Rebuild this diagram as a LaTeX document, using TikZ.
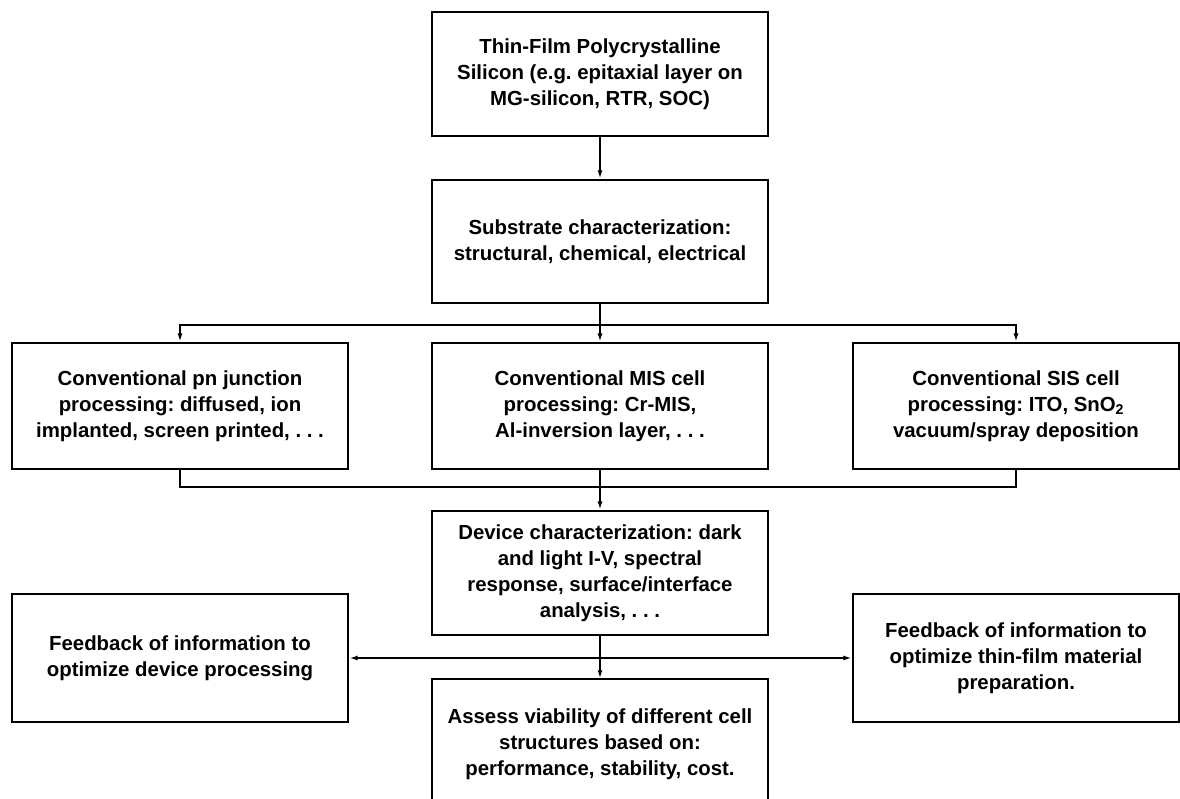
\documentclass[tikz,border=0pt]{standalone}
\usepackage{fontspec}
\setmainfont{Liberation Sans}
\usetikzlibrary{arrows.meta, positioning}
\frenchspacing

\begin{document}
\begin{tikzpicture}[x=0.025cm, y=-0.025cm,
  every node/.style={font=\bfseries\fontsize{14.5}{18.5}\selectfont},
  box/.style={draw, line width=1.5pt, align=center, inner sep=0pt,
    minimum width=8.4cm, minimum height=3.15cm},
  narrowbox/.style={box, minimum width=8.15cm},
  link/.style={line width=1.3pt},
  flow/.style={link, -{Latex[length=6pt,width=3.5pt]}}]
\useasboundingbox (0,0) rectangle (1180,799);
% Main column
\node[box, minimum height=3.1cm] (Film) at (600,74) {Thin-Film Polycrystalline\\Silicon (e.g. epitaxial layer on\\MG-silicon, RTR, SOC)};
\node[box, minimum height=3.08cm] (Substrate) at (600,241.5) {Substrate characterization:\\structural, chemical, electrical};
% Cell processing routes
\node[box] (PN) at (180,406) {Conventional pn junction\\processing: diffused, ion\\implanted, screen printed, . . .};
\node[box] (MIS) at (600,406) {Conventional MIS cell\\processing: Cr-MIS,\\Al-inversion layer, . . .};
\node[narrowbox] (SIS) at (1016,406) {Conventional SIS cell\\processing: ITO, SnO\textsubscript{2}\\vacuum/spray deposition};
% Evaluation
\node[box, minimum height=3.1cm] (Device) at (600,573) {Device characterization: dark\\and light I-V, spectral\\response, surface/interface\\analysis, . . .};
\node[box, minimum height=3.22cm] (FeedDev) at (180,658) {Feedback of information to\\optimize device processing};
\node[narrowbox, minimum height=3.22cm] (FeedFilm) at (1016,658) {Feedback of information to\\optimize thin-film material\\preparation.};
\node[minimum width=8.4cm, minimum height=3.25cm, align=center, inner sep=0pt] (Assess) at (600,744) {Assess viability of different cell\\structures based on:\\performance, stability, cost.};
\draw[line width=1.5pt] (Assess.south west) -- (Assess.north west) -- (Assess.north east) -- (Assess.south east);
% Junctions
\coordinate (Split) at (600,325);
\coordinate (Join) at (600,487);
\coordinate (Fork) at (600,658);
% Connectors
\draw[flow] (Film) -- (Substrate);
\draw[flow] (Substrate) -- (MIS);
\draw[flow] (Split) -| (PN);
\draw[flow] (Split) -| (SIS);
\draw[link] (PN) |- (Join) -| (SIS);
\draw[flow] (MIS) -- (Device);
\draw[flow] (Device) -- (Assess);
\draw[flow] (Fork) -- (FeedDev);
\draw[flow] (Fork) -- (FeedFilm);
\end{tikzpicture}
\end{document}
